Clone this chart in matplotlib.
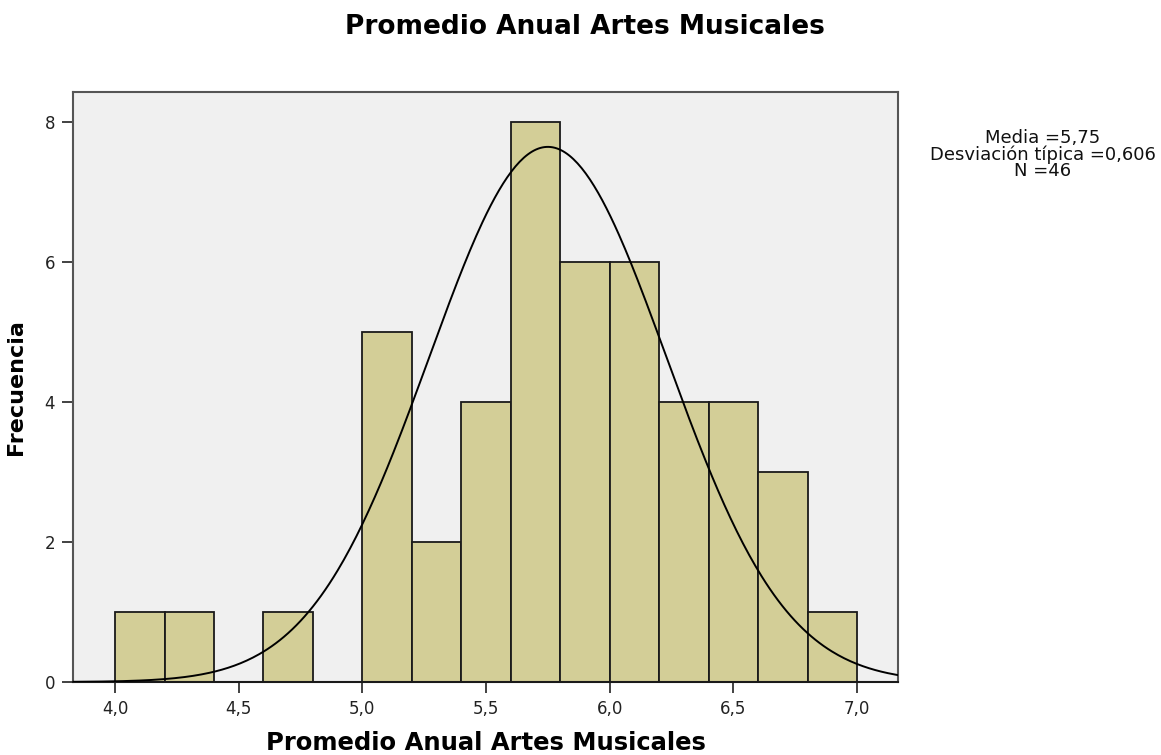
import numpy as np
import matplotlib
matplotlib.use("Agg")
import matplotlib.pyplot as plt

plt.rcParams["font.family"] = ["DejaVu Sans"]

# histogram data
bin_edges = [4.0, 4.2, 4.4, 4.6, 4.8, 5.0, 5.2, 5.4, 5.6, 5.8, 6.0, 6.2, 6.4, 6.6, 6.8, 7.0]
counts = [1, 1, 0, 1, 0, 5, 2, 4, 8, 6, 6, 4, 4, 3, 1]

# normal curve as drawn
curve_mean = 5.75
curve_sd = 0.48
n_total = 46
bin_width = 0.2

x_ticks = [4.0, 4.5, 5.0, 5.5, 6.0, 6.5, 7.0]
x_tick_labels = ["4,0", "4,5", "5,0", "5,5", "6,0", "6,5", "7,0"]
y_ticks = [0, 2, 4, 6, 8]

stats_text = "Media =5,75\nDesviación típica =0,606\nN =46"

fig = plt.figure(figsize=(11.61, 7.55), dpi=100)
ax = fig.add_axes([0.0629, 0.0967, 0.7106, 0.7814])
ax.set_facecolor("#f0f0f0")

lefts = bin_edges[:-1]
widths = np.diff(bin_edges)
ax.bar(lefts, counts, width=widths, align="edge", color="#d3ce97",
       edgecolor="#1a1a1a", linewidth=1.3, zorder=2)

xs = np.linspace(3.83, 7.166, 400)
ys = n_total * bin_width / (curve_sd * np.sqrt(2 * np.pi)) * np.exp(-0.5 * ((xs - curve_mean) / curve_sd) ** 2)
ax.plot(xs, ys, color="black", linewidth=1.4, zorder=3)

ax.set_xlim(3.83, 7.166)
ax.set_ylim(0, 8.43)
ax.set_xticks(x_ticks)
ax.set_xticklabels(x_tick_labels)
ax.set_yticks(y_ticks)
ax.tick_params(axis="both", direction="out", length=8, width=1.3,
               color="#333333", labelsize=12, labelcolor="#222222", pad=5)

for side in ["left", "right", "top"]:
    ax.spines[side].set_color("#555555")
    ax.spines[side].set_linewidth(1.5)
ax.spines["bottom"].set_color("#1a1a1a")
ax.spines["bottom"].set_linewidth(1.5)

ax.set_xlabel("Promedio Anual Artes Musicales", fontsize=17.5, fontweight="bold", va="center")
ax.xaxis.set_label_coords(0.5, -0.104)
ax.set_ylabel("Frecuencia", fontsize=16, fontweight="bold", va="center")
ax.yaxis.set_label_coords(-0.069, 0.5)
fig.suptitle("Promedio Anual Artes Musicales", fontsize=19, fontweight="bold",
             x=0.504, y=0.964, va="center")

fig.text(0.898, 0.795, stats_text, ha="center", va="center", fontsize=13,
         linespacing=0.88, color="#111111")

fig.savefig("out.png", dpi=100)
